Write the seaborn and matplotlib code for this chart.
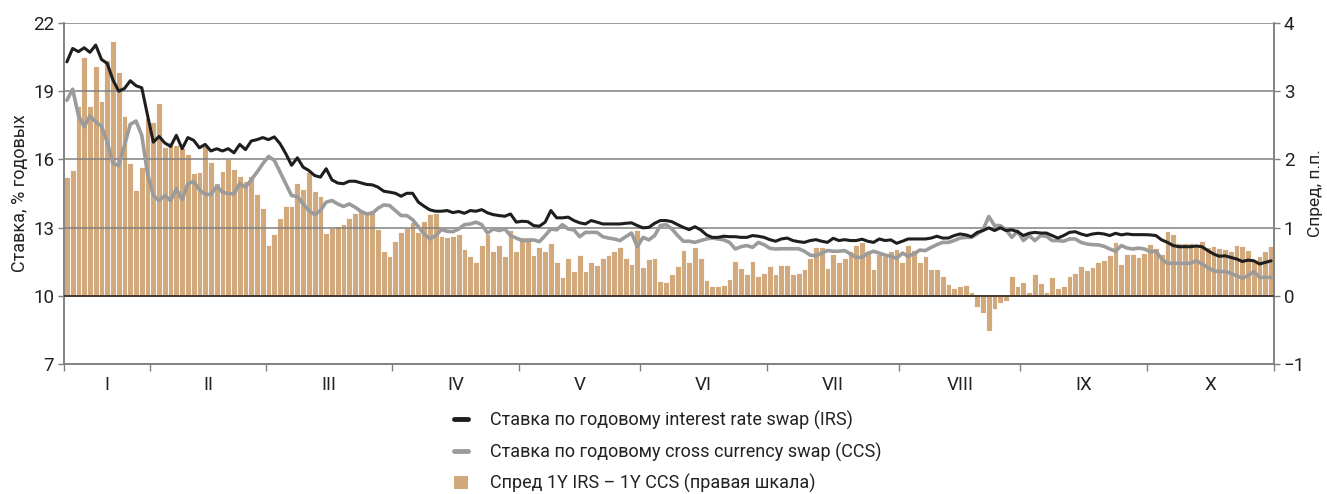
import numpy as np
import pandas as pd
import seaborn as sns
import matplotlib.pyplot as plt
from matplotlib.lines import Line2D
from matplotlib.patches import Patch

# months (Roman numerals) and number of trading days in each
months = ["I", "II", "III", "IV", "V", "VI", "VII", "VIII", "IX", "X"]
days_in_month = [15, 20, 22, 22, 21, 22, 23, 21, 22, 22]

# 1Y interest rate swap, % (one line per month)
irs = [
    20.29, 20.88, 20.74, 20.91, 20.71, 21.03, 20.40, 20.22, 19.49, 19.00, 19.12, 19.46, 19.24, 19.15, 17.94,
    16.76, 17.01, 16.72, 16.57, 17.06, 16.47, 16.96, 16.84, 16.51, 16.66, 16.37, 16.47, 16.37, 16.47, 16.29, 16.66, 16.43, 16.81, 16.87, 16.96,
    16.87, 16.99, 16.69, 16.25, 15.74, 16.07, 15.66, 15.51, 15.29, 15.22, 15.59, 15.10, 14.96, 14.93, 15.04, 15.04, 14.97, 14.90, 14.88, 14.78, 14.60, 14.56,
    14.51, 14.38, 14.51, 14.51, 14.12, 13.94, 13.78, 13.72, 13.72, 13.75, 13.66, 13.71, 13.63, 13.75, 13.72, 13.79, 13.65, 13.57, 13.53, 13.50, 13.60, 13.24,
    13.28, 13.26, 13.09, 13.06, 13.24, 13.75, 13.43, 13.43, 13.46, 13.31, 13.21, 13.16, 13.31, 13.24, 13.16, 13.16, 13.16, 13.16, 13.19, 13.21, 13.09,
    12.99, 13.01, 13.19, 13.31, 13.31, 13.26, 13.13, 13.01, 12.91, 13.04, 12.90, 12.68, 12.57, 12.57, 12.62, 12.60, 12.60, 12.57, 12.57, 12.65, 12.62, 12.57,
    12.47, 12.40, 12.50, 12.54, 12.43, 12.38, 12.35, 12.43, 12.47, 12.40, 12.35, 12.53, 12.43, 12.47, 12.43, 12.43, 12.49, 12.40, 12.35, 12.50, 12.43, 12.46, 12.31,
    12.40, 12.50, 12.50, 12.50, 12.50, 12.54, 12.62, 12.54, 12.54, 12.65, 12.72, 12.68, 12.60, 12.79, 12.87, 12.99, 12.87, 12.99, 12.87, 12.90, 12.82,
    12.65, 12.75, 12.79, 12.76, 12.76, 12.65, 12.54, 12.65, 12.79, 12.82, 12.72, 12.65, 12.72, 12.75, 12.72, 12.65, 12.75, 12.68, 12.72, 12.69, 12.69, 12.69,
    12.68, 12.65, 12.46, 12.35, 12.21, 12.16, 12.16, 12.16, 12.19, 12.16, 11.99, 11.84, 11.74, 11.76, 11.69, 11.62, 11.51, 11.57, 11.54, 11.40, 11.47, 11.54,
]

# 1Y cross currency swap, %
ccs = [
    18.60, 19.09, 17.94, 17.43, 17.91, 17.65, 17.46, 16.76, 15.81, 15.74, 16.62, 17.54, 17.69, 17.06, 15.37,
    14.41, 14.19, 14.41, 14.19, 14.71, 14.22, 14.93, 15.03, 14.66, 14.46, 14.46, 14.81, 14.56, 14.49, 14.49, 14.93, 14.78, 15.10, 15.44, 15.81,
    16.13, 15.96, 15.44, 14.93, 14.41, 14.37, 14.04, 13.75, 13.57, 13.75, 14.12, 14.19, 14.04, 13.93, 14.04, 13.90, 13.72, 13.60, 13.63, 13.85, 14.00, 13.97,
    13.75, 13.53, 13.53, 13.35, 13.04, 12.72, 12.50, 12.65, 12.91, 12.84, 12.82, 12.94, 13.13, 13.16, 13.24, 13.13, 12.76, 12.94, 12.87, 12.94, 12.65, 12.54,
    12.43, 12.43, 12.46, 12.38, 12.65, 12.94, 12.90, 13.13, 12.94, 12.90, 12.60, 12.79, 12.79, 12.79, 12.60, 12.54, 12.50, 12.43, 12.60, 12.76, 12.16,
    12.57, 12.46, 12.65, 13.09, 13.13, 12.94, 12.65, 12.40, 12.40, 12.35, 12.43, 12.50, 12.54, 12.50, 12.46, 12.35, 12.06, 12.16, 12.21, 12.13, 12.35, 12.25,
    12.09, 12.06, 12.07, 12.07, 12.07, 12.07, 11.96, 11.79, 11.76, 11.88, 11.99, 11.96, 11.96, 11.99, 11.84, 11.69, 11.69, 11.87, 11.96, 11.88, 11.79, 11.74, 11.65,
    11.88, 11.74, 11.84, 12.01, 11.99, 12.13, 12.25, 12.35, 12.35, 12.43, 12.54, 12.57, 12.57, 12.72, 12.90, 13.49, 13.09, 13.09, 12.90, 12.57, 12.84,
    12.43, 12.65, 12.43, 12.65, 12.62, 12.43, 12.43, 12.40, 12.50, 12.50, 12.35, 12.28, 12.25, 12.24, 12.18, 12.06, 11.96, 12.21, 12.10, 12.06, 12.10, 12.06,
    11.94, 11.96, 11.62, 11.43, 11.43, 11.43, 11.43, 11.43, 11.54, 11.40, 11.25, 11.10, 11.07, 11.07, 10.99, 10.88, 10.78, 10.88, 11.07, 10.81, 10.81, 10.81,
]

# spread 1Y IRS - 1Y CCS, p.p. (right axis)
spread = [
    1.74, 1.85, 2.78, 3.50, 2.79, 3.37, 2.86, 3.46, 3.73, 3.28, 2.63, 1.94, 1.55, 1.89, 2.60,
    2.55, 2.82, 2.18, 2.25, 2.21, 2.16, 2.08, 1.80, 1.81, 2.19, 1.96, 1.66, 1.83, 2.00, 1.86, 1.76, 1.69, 1.75, 1.50, 1.29,
    0.74, 0.91, 1.14, 1.31, 1.31, 1.66, 1.57, 1.81, 1.54, 1.47, 0.92, 1.00, 1.02, 1.05, 1.14, 1.22, 1.24, 1.25, 1.26, 0.98, 0.65, 0.58,
    0.80, 0.93, 1.00, 1.08, 0.93, 1.10, 1.20, 1.22, 0.88, 0.86, 0.87, 0.90, 0.69, 0.58, 0.50, 0.74, 0.91, 0.66, 0.74, 0.58, 0.96, 0.65,
    0.86, 0.86, 0.60, 0.71, 0.65, 0.78, 0.50, 0.28, 0.55, 0.36, 0.60, 0.36, 0.50, 0.45, 0.56, 0.60, 0.66, 0.72, 0.55, 0.46, 0.97,
    0.42, 0.54, 0.56, 0.21, 0.20, 0.32, 0.43, 0.67, 0.50, 0.71, 0.55, 0.23, 0.15, 0.15, 0.16, 0.25, 0.51, 0.41, 0.32, 0.51, 0.29, 0.34,
    0.44, 0.32, 0.45, 0.45, 0.32, 0.34, 0.39, 0.55, 0.71, 0.71, 0.41, 0.61, 0.50, 0.55, 0.66, 0.75, 0.79, 0.66, 0.39, 0.61, 0.59, 0.66, 0.68,
    0.49, 0.75, 0.67, 0.50, 0.58, 0.40, 0.39, 0.29, 0.17, 0.12, 0.15, 0.16, 0.06, -0.16, -0.25, -0.52, -0.19, -0.10, -0.08, 0.29, 0.14,
    0.20, 0.05, 0.32, 0.19, 0.05, 0.28, 0.11, 0.14, 0.29, 0.33, 0.43, 0.38, 0.42, 0.50, 0.53, 0.60, 0.79, 0.47, 0.61, 0.61, 0.57, 0.63,
    0.76, 0.70, 0.61, 0.95, 0.90, 0.77, 0.77, 0.78, 0.75, 0.81, 0.71, 0.73, 0.70, 0.69, 0.66, 0.74, 0.73, 0.67, 0.51, 0.59, 0.65, 0.73,
]

irs_label = "Ставка по годовому interest rate swap (IRS)"
ccs_label = "Ставка по годовому cross currency swap (CCS)"
spread_label = "Спред 1Y IRS – 1Y CCS (правая шкала)"

bar_color = "#D2A97D"
irs_color = "#1e1e1e"
ccs_color = "#9b9b9b"
grid_color = "#808080"

n = len(irs)
df = pd.DataFrame({"day": np.arange(n), "irs": irs, "ccs": ccs, "spread": spread})

sns.set_theme(style="white")
plt.rcParams["font.family"] = ["Liberation Sans Narrow", "Roboto", "DejaVu Sans"]
plt.rcParams["axes.unicode_minus"] = True

fig = plt.figure(figsize=(13.27, 4.94), dpi=100)
ax = fig.add_axes([64 / 1327, 1 - 364 / 494, (1274 - 64) / 1327, (364 - 23) / 494])
ax2 = ax.twinx()
ax.set_zorder(ax2.get_zorder() + 1)
ax.patch.set_visible(False)

# spread bars on the right scale
sns.barplot(data=df, x="day", y="spread", ax=ax2, native_scale=True, color=bar_color,
            saturation=1, width=1.0, edgecolor="white", linewidth=0.6, errorbar=None)

# rates on the left scale
sns.lineplot(data=df, x="day", y="irs", ax=ax, color=irs_color, lw=2.2, zorder=5)
sns.lineplot(data=df, x="day", y="ccs", ax=ax, color=ccs_color, lw=2.6, zorder=4)

ax.set_ylim(7, 22)
ax2.set_ylim(-1, 4)
ax.set_xlim(-0.5, n - 0.5)

ax.set_yticks([7, 10, 13, 16, 19, 22])
ax2.set_yticks([-1, 0, 1, 2, 3, 4])
ax.yaxis.grid(True, color=grid_color, lw=1.1)
ax.xaxis.grid(False)
ax2.grid(False)
ax.axhline(10, color="#3a2c22", lw=1.2, zorder=3)

# month boundaries as tick marks, names centred between them
bounds = np.concatenate([[0], np.cumsum(days_in_month)]) - 0.5
centers = (bounds[:-1] + bounds[1:]) / 2
ax.set_xticks(bounds)
ax.set_xticklabels([])
ax.set_xticks(centers, minor=True)
ax.set_xticklabels(months, minor=True)
ax.tick_params(axis="x", which="major", bottom=True, length=5, width=1, color=grid_color)
ax.tick_params(axis="x", which="minor", bottom=True, length=0, labelsize=13.5, pad=9, labelcolor="#222222")

ax.tick_params(axis="y", left=True, length=4, width=1, color=grid_color, labelsize=13.5, pad=3, labelcolor="#222222")
ax2.tick_params(axis="y", right=True, length=4, width=1, color=grid_color, labelsize=13.5, pad=3, labelcolor="#222222")

for a in (ax, ax2):
    a.spines["top"].set_visible(False)
    for s in ("left", "right", "bottom"):
        a.spines[s].set_color(grid_color)
        a.spines[s].set_linewidth(1.1)

ax.set_xlabel("")
ax.set_ylabel("Ставка, % годовых", fontsize=13, color="#222222", labelpad=3)
ax2.set_ylabel("Спред, п.п.", fontsize=12.5, color="#222222", labelpad=2)

handles = [
    Line2D([], [], color=irs_color, lw=3.5),
    Line2D([], [], color=ccs_color, lw=3.5),
    Patch(facecolor=bar_color, edgecolor="none"),
]
fig.legend(handles, [irs_label, ccs_label, spread_label], loc="upper left",
           bbox_to_anchor=(454 / 1327, 1 - 411 / 494), frameon=False, fontsize=13,
           handlelength=0.8, handleheight=0.8, handletextpad=1.2, labelspacing=0.68,
           borderpad=0, borderaxespad=0, labelcolor="#222222")

fig.savefig("out.png", dpi=100)
